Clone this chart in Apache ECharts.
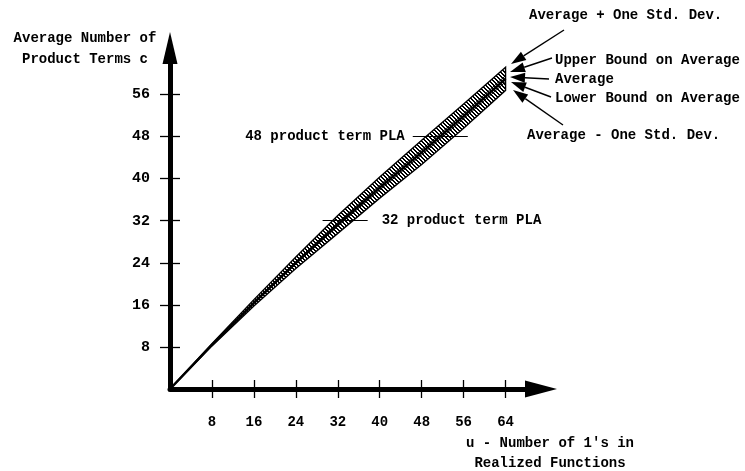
<!DOCTYPE html>
<html>
<head>
<meta charset="utf-8">
<script src="https://cdn.jsdelivr.net/npm/echarts@6/dist/echarts.min.js"></script>
<style>html,body{margin:0;padding:0;background:#fff}#c{width:745px;height:471px}</style>
</head>
<body>
<div id="c"></div>
<script>
// ---- data ----
const u          = [0, 8,    16,   24,   32,   40,   48,   56,   64];
const average    = [0, 8.4,  16.4, 24.0, 31.3, 38.3, 45.0, 51.9, 59.0];
const avgPlusSd  = [0, 8.6,  17.0, 25.1, 33.0, 40.3, 47.3, 54.2, 61.2];
const avgMinusSd = [0, 8.2,  15.8, 22.9, 29.6, 36.3, 42.7, 49.6, 56.8];
const upperBound = [0, 8.45, 16.55, 24.25, 31.65, 38.75, 45.5, 52.4, 59.6];
const lowerBound = [0, 8.35, 16.25, 23.75, 30.95, 37.85, 44.5, 51.4, 58.4];
const xTicks = [8, 16, 24, 32, 40, 48, 56, 64];
const yTicks = [8, 16, 24, 32, 40, 48, 56];
const plaSizes = [48, 32];
const plaSpans = [[46.3, 56.8], [29.1, 37.7]];

const FONT = '"Liberation Mono", "DejaVu Sans Mono", monospace';
const pair = arr => u.map((x, i) => [x, arr[i]]);

// hatch pattern
const cv = document.createElement('canvas');
cv.width = 4; cv.height = 4;
const g = cv.getContext('2d');
g.fillStyle = '#fff'; g.fillRect(0, 0, 4, 4);
g.fillStyle = '#000';
for (let i = 0; i < 4; i++) { g.fillRect(i, i, 1, 1); g.fillRect((i + 1) % 4, i, 1, 1); }
const hatch = { type: 'pattern', image: cv, repeat: 'repeat' };

const chart = echarts.init(document.getElementById('c'));

function arrow(x1, y1, x2, y2) {
  const a = Math.atan2(y2 - y1, x2 - x1);
  const L = 15, W = 5;
  const bx = x2 - L * Math.cos(a), by = y2 - L * Math.sin(a);
  const px = -Math.sin(a) * W, py = Math.cos(a) * W;
  return [
    { type: 'line', shape: { x1, y1, x2: bx, y2: by }, style: { stroke: '#000', lineWidth: 1.4 } },
    { type: 'polygon', shape: { points: [[x2, y2], [bx + px, by + py], [bx - px, by - py]] }, style: { fill: '#000' } }
  ];
}
function txt(x, y, s, align) {
  return { type: 'text', x, y, style: { text: s, font: 'bold 14px ' + FONT, fill: '#000', align: align || 'left', verticalAlign: 'middle' } };
}

const graphics = [].concat(
  txt(529, 15, 'Average + One Std. Dev.'),
  txt(555, 60, 'Upper Bound on Average'),
  txt(555, 79, 'Average'),
  txt(555, 98, 'Lower Bound on Average'),
  txt(527, 135, 'Average - One Std. Dev.'),
  txt(85, 38, 'Average Number of', 'center'),
  txt(85, 59, 'Product Terms c', 'center'),
  txt(550, 443, "u - Number of 1's in", 'center'),
  txt(550, 463, 'Realized Functions', 'center'),
  arrow(564, 30, 511, 64),
  arrow(552, 58, 510, 72),
  arrow(549, 79, 510, 77),
  arrow(551, 97, 511, 82),
  arrow(563, 125, 513, 90)
);

const axisCommon = { type: 'value', splitLine: { show: false } };
const XMAX = 70.76, YMAX = 64.85;

chart.setOption({
  backgroundColor: '#fff',
  animation: false,
  grid: { left: 170, right: 204, top: 48, bottom: 82, containLabel: false },
  xAxis: [
    Object.assign({}, axisCommon, {
      min: 0, max: XMAX, interval: 8, position: 'bottom',
      axisLine: { show: true, onZero: false, symbol: ['none', 'triangle'], symbolSize: [17, 32], lineStyle: { color: '#000', width: 5 } },
      axisTick: { show: true, inside: false, length: 9, customValues: xTicks, lineStyle: { color: '#000', width: 1.3 } },
      axisLabel: { show: true, customValues: xTicks, margin: 26, fontFamily: FONT, fontSize: 14, fontWeight: 'bold', color: '#000' }
    }),
    Object.assign({}, axisCommon, {
      min: 0, max: XMAX, interval: 8, position: 'bottom',
      axisLine: { show: false },
      axisTick: { show: true, inside: true, length: 9, customValues: xTicks, lineStyle: { color: '#000', width: 1.3 } },
      axisLabel: { show: false }
    })
  ],
  yAxis: [
    Object.assign({}, axisCommon, {
      min: 0, max: YMAX, interval: 8, position: 'left',
      axisLine: { show: true, onZero: false, symbol: ['none', 'triangle'], symbolSize: [15, 32], lineStyle: { color: '#000', width: 5 } },
      axisTick: { show: true, inside: false, length: 10, customValues: yTicks, lineStyle: { color: '#000', width: 1.3 } },
      axisLabel: { show: true, customValues: yTicks, margin: 20, fontFamily: FONT, fontSize: 15, fontWeight: 'bold', color: '#000' }
    }),
    Object.assign({}, axisCommon, {
      min: 0, max: YMAX, interval: 8, position: 'left',
      axisLine: { show: false },
      axisTick: { show: true, inside: true, length: 10, customValues: yTicks, lineStyle: { color: '#000', width: 1.3 } },
      axisLabel: { show: false }
    })
  ],
  series: [
    {
      type: 'custom', xAxisIndex: 0, yAxisIndex: 0, data: [0], silent: true,
      renderItem: function (params, api) {
        const pts = [];
        for (let i = 0; i < u.length; i++) pts.push(api.coord([u[i], avgPlusSd[i]]));
        for (let i = u.length - 1; i >= 0; i--) pts.push(api.coord([u[i], avgMinusSd[i]]));
        return { type: 'polygon', shape: { points: pts }, style: { fill: hatch, stroke: '#000', lineWidth: 1.4 } };
      }
    },
    { type: 'line', data: pair(upperBound), showSymbol: false, symbol: 'none', lineStyle: { color: '#000', width: 1 }, silent: true },
    { type: 'line', data: pair(lowerBound), showSymbol: false, symbol: 'none', lineStyle: { color: '#000', width: 1 }, silent: true },
    {
      type: 'line', data: pair(average), showSymbol: false, symbol: 'none', lineStyle: { color: '#000', width: 2.5 }, silent: true,
      markLine: {
        silent: true, symbol: ['none', 'none'], animation: false,
        lineStyle: { color: '#000', width: 1.2, type: 'solid' },
        data: [
          [{ coord: [plaSpans[0][0], plaSizes[0]], label: { show: true, position: 'start', distance: 8, formatter: plaSizes[0] + ' product term PLA', fontFamily: FONT, fontSize: 14, fontWeight: 'bold', color: '#000' } },
           { coord: [plaSpans[0][1], plaSizes[0]] }],
          [{ coord: [plaSpans[1][0], plaSizes[1]], label: { show: true, position: 'end', distance: 14, formatter: plaSizes[1] + ' product term PLA', fontFamily: FONT, fontSize: 14, fontWeight: 'bold', color: '#000' } },
           { coord: [plaSpans[1][1], plaSizes[1]] }]
        ]
      }
    }
  ],
  graphic: graphics
});
</script>
</body>
</html>
